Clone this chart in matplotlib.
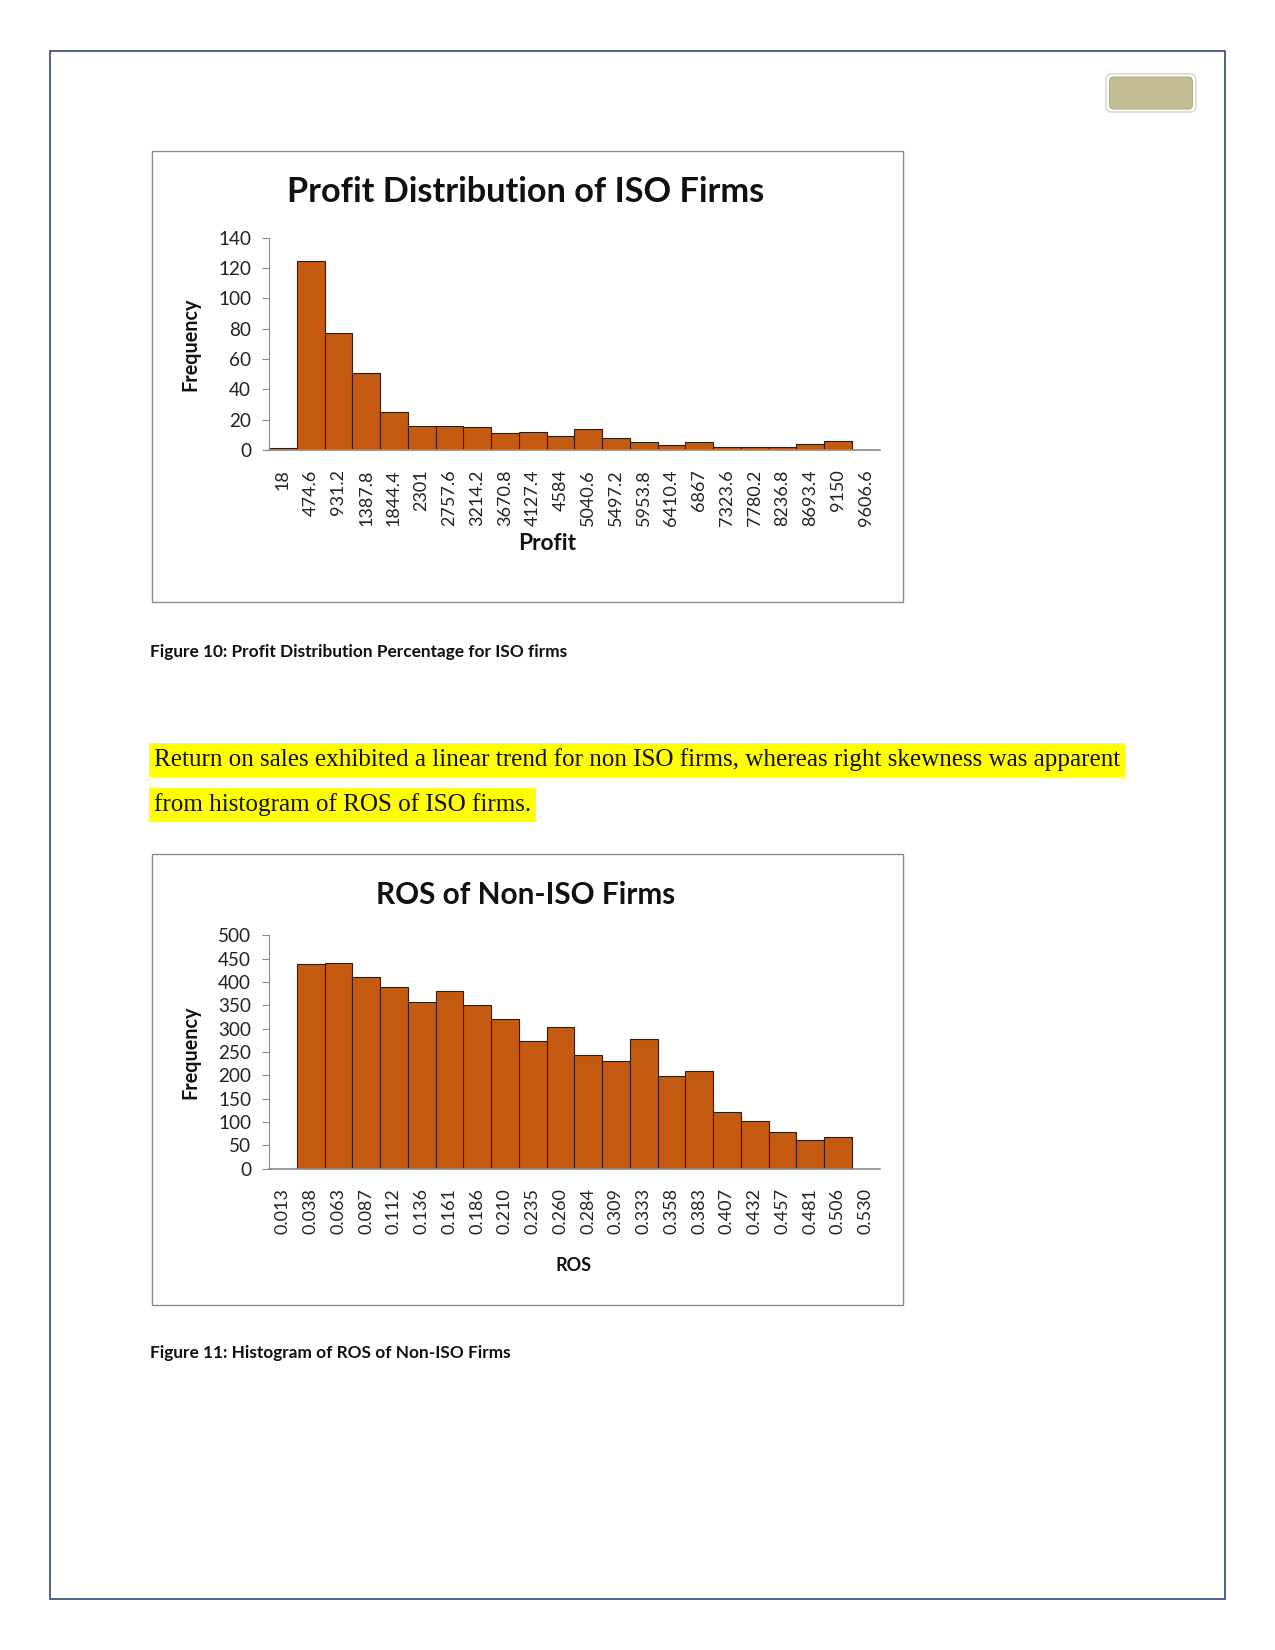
import matplotlib.pyplot as plt
from matplotlib.patches import Rectangle, FancyBboxPatch

# data
profit_bins = ["18", "474.6", "931.2", "1387.8", "1844.4", "2301", "2757.6", "3214.2",
               "3670.8", "4127.4", "4584", "5040.6", "5497.2", "5953.8", "6410.4", "6867",
               "7323.6", "7780.2", "8236.8", "8693.4", "9150", "9606.6"]
profit_freq = [1, 125, 77, 51, 25, 16, 16, 15, 11, 12, 9, 14, 8, 5, 3, 5, 2, 2, 2, 4, 6, 0]

ros_bins = ["0.013", "0.038", "0.063", "0.087", "0.112", "0.136", "0.161", "0.186",
            "0.210", "0.235", "0.260", "0.284", "0.309", "0.333", "0.358", "0.383",
            "0.407", "0.432", "0.457", "0.481", "0.506", "0.530"]
ros_freq = [0, 438, 440, 410, 389, 357, 380, 350, 320, 273, 303, 243, 230, 277, 198, 209,
            121, 103, 78, 61, 69, 0]

W, H = 1275, 1650
BAR = "#C55A11"
SANS = "Lato"

fig = plt.figure(figsize=(W / 100, H / 100), dpi=100)


def fx(x):
    return x / W


def fy(y):
    return 1 - y / H


# page border
fig.patches.append(Rectangle((fx(50.5), fy(1599)), fx(1174), 1548.5 / H, transform=fig.transFigure,
                             fill=False, edgecolor="#34467a", linewidth=1.2))
# header badge
fig.patches.append(FancyBboxPatch((fx(1106), fy(112)), fx(90), 38 / H, transform=fig.transFigure,
                                  boxstyle="round,pad=0,rounding_size=0.004", facecolor="white",
                                  edgecolor="#d8d5c4", linewidth=1))
fig.patches.append(FancyBboxPatch((fx(1109.5), fy(109)), fx(83), 32 / H, transform=fig.transFigure,
                                  boxstyle="round,pad=0,rounding_size=0.003", facecolor="#C3BD95",
                                  edgecolor="#b5af88", linewidth=0.8))


def chart(box_top, zero_y, top_y, ymax, step, cats, vals, title, title_size, xlabel, xlabel_y, xlabel_size, xlabel_x):
    # chart frame
    fig.patches.append(Rectangle((fx(151.5), fy(box_top + 451)), fx(751), 451 / H,
                                 transform=fig.transFigure, fill=False, edgecolor="#8c8c8c", linewidth=1))
    ax = fig.add_axes([fx(269), fy(zero_y), fx(879.5 - 269), (zero_y - top_y) / H])
    x = list(range(len(cats)))
    ax.bar(x, vals, width=1.0, color=BAR, edgecolor="#3a1a05", linewidth=0.8)
    ax.set_xlim(-0.5, len(cats) - 0.5)
    ax.set_ylim(0, ymax)
    ax.set_yticks(range(0, ymax + 1, step))
    ax.set_xticks(x)
    ax.set_xticklabels(cats, rotation=90, fontfamily=SANS, fontsize=13, color="#222222")
    for lab in ax.get_yticklabels():
        lab.set_fontfamily(SANS)
        lab.set_fontsize(13.6)
        lab.set_color("#222222")
    ax.tick_params(axis="x", length=0, pad=14)
    ax.tick_params(axis="y", length=5, width=0.8, color="#8c8c8c", pad=8)
    for s in ["top", "right"]:
        ax.spines[s].set_visible(False)
    ax.spines["left"].set_color("#8c8c8c")
    ax.spines["left"].set_linewidth(0.8)
    ax.spines["bottom"].set_color("#8c8c8c")
    ax.spines["bottom"].set_linewidth(1.2)
    ax.set_facecolor("none")
    fig.text(fx(526), fy(box_top + 42), title, ha="center", va="center", fontfamily=SANS,
             fontweight="bold", fontsize=title_size, color="#111111")
    fig.text(fx(190), fy((zero_y + top_y) / 2), "Frequency", rotation=90, ha="center", va="center",
             fontfamily=SANS, fontweight="bold", fontsize=14.2, color="#111111")
    fig.text(fx(xlabel_x), fy(xlabel_y), xlabel, ha="center", va="center", fontfamily=SANS,
             fontweight="bold", fontsize=xlabel_size, color="#111111")
    return ax


chart(150.5, 450, 237.8, 140, 20, profit_bins, profit_freq,
      "Profit Distribution of ISO Firms", 24.7, "Profit", 544, 16.4, 547)
chart(853.5, 1168.8, 935.3, 500, 50, ros_bins, ros_freq,
      "ROS of Non-ISO Firms", 21.4, "ROS", 1265.5, 13, 574)

# captions
fig.text(fx(150.5), fy(652), "Figure 10: Profit Distribution Percentage for ISO firms", ha="left",
         va="center", fontfamily=SANS, fontweight="bold", fontsize=12.4, color="#111111")
fig.text(fx(150.5), fy(1353), "Figure 11: Histogram of ROS of Non-ISO Firms", ha="left",
         va="center", fontfamily=SANS, fontweight="bold", fontsize=12.4, color="#111111")

# highlighted paragraph
para = ["Return on sales exhibited a linear trend for non ISO firms, whereas right skewness was apparent",
        "from histogram of ROS of ISO firms."]
for line, y in zip(para, [760, 805]):
    fig.text(fx(154), fy(y), line, ha="left", va="center", fontfamily="Liberation Serif",
             fontsize=18.1, color="#111111",
             bbox=dict(boxstyle="square,pad=0.2", facecolor="#FFFF00", edgecolor="none"))

fig.savefig("out.png", dpi=100, facecolor="white")
